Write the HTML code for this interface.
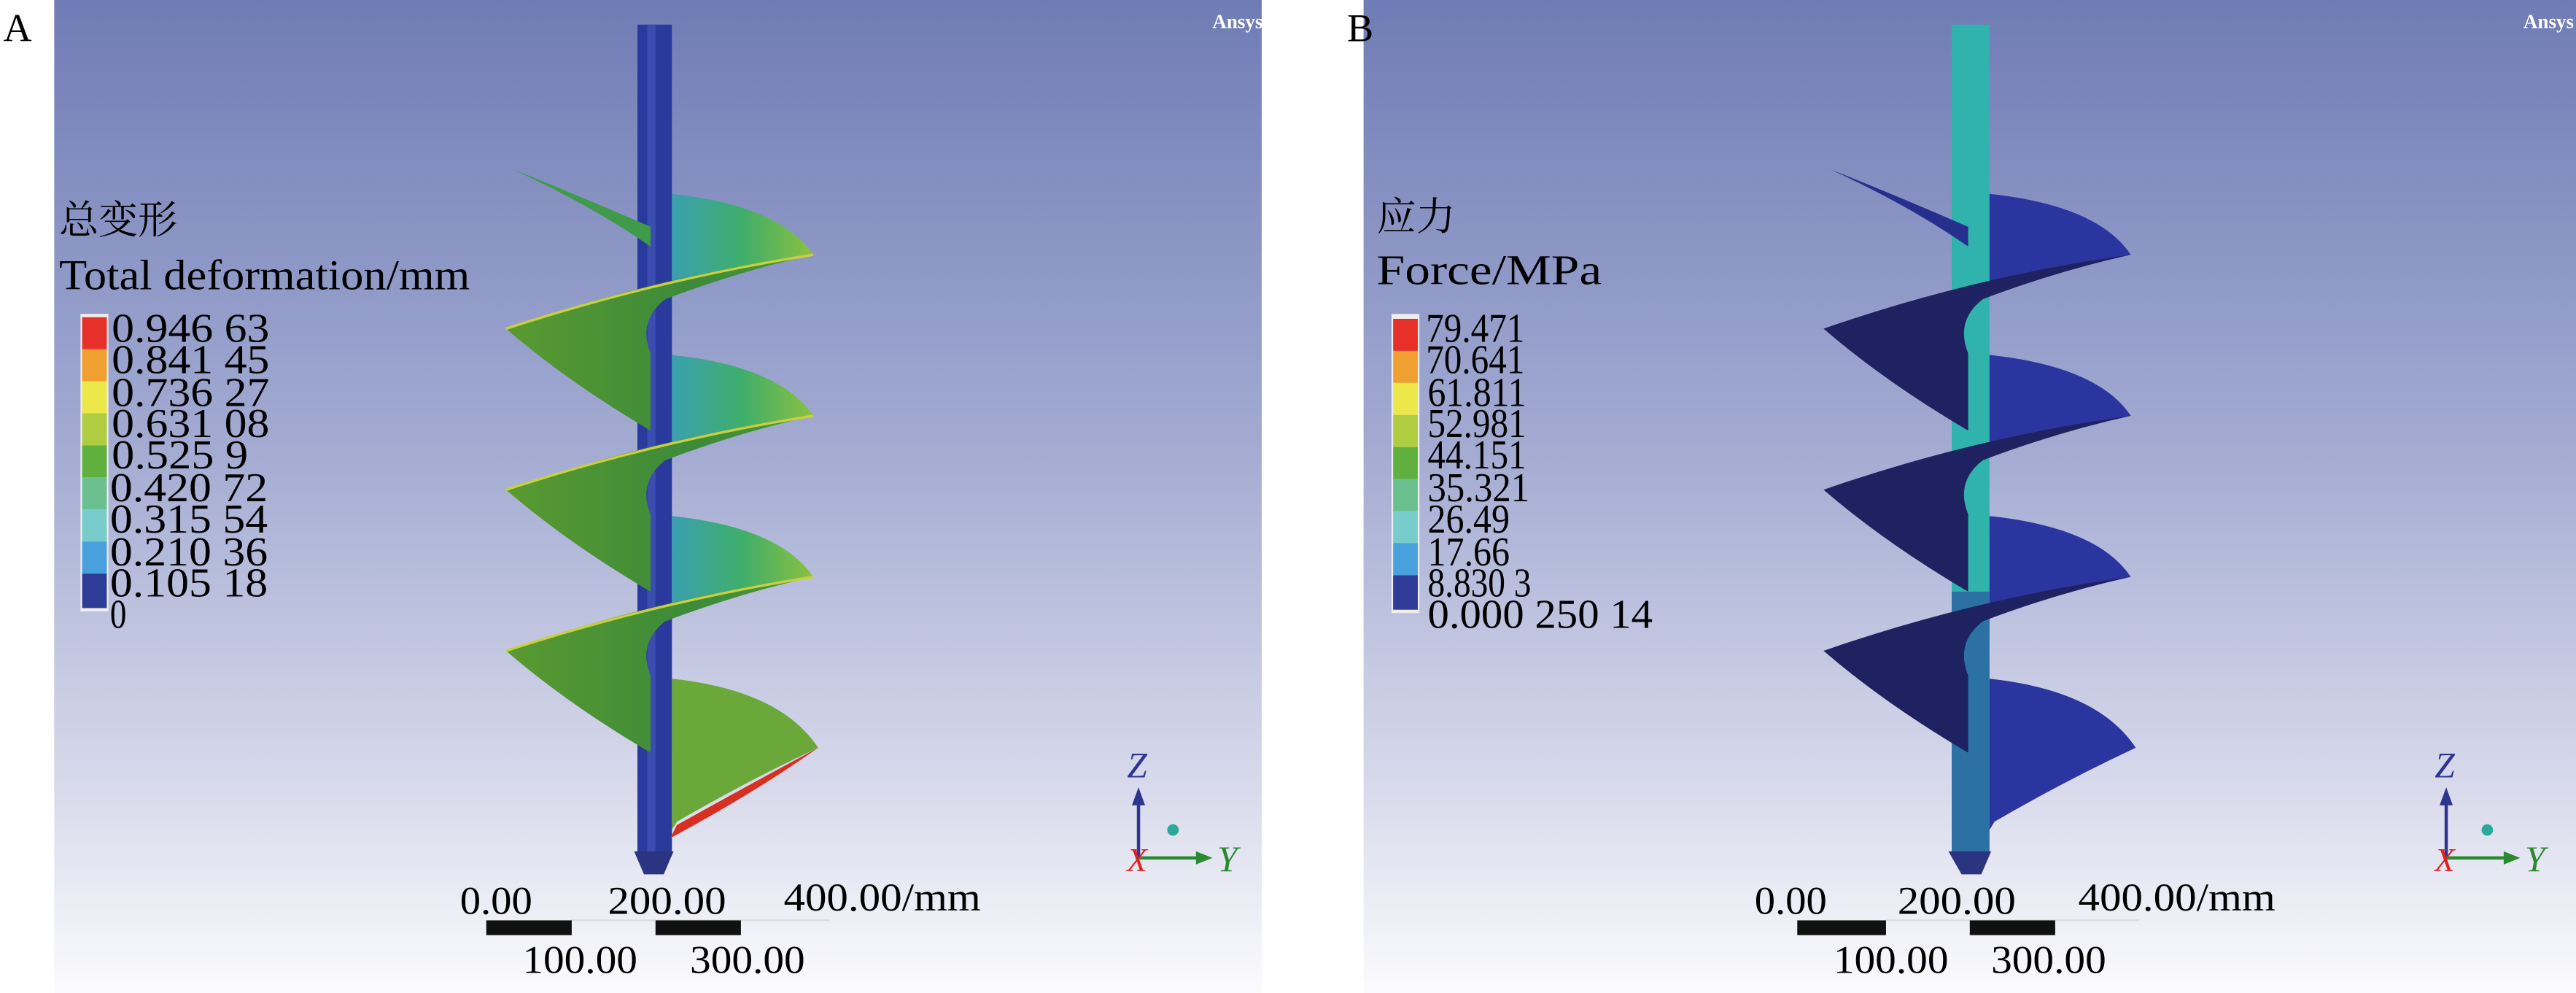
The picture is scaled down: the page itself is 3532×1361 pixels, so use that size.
<!DOCTYPE html>
<html><head><meta charset="utf-8"><style>
html,body{margin:0;padding:0;background:#fff;}
svg{display:block;}
text{font-family:"Liberation Serif","Noto Serif CJK SC",serif;}
</style></head><body>
<svg width="3532" height="1361" viewBox="0 0 1568 604.2" preserveAspectRatio="none" xmlns="http://www.w3.org/2000/svg">
<defs>
<linearGradient id="bg" x1="0" y1="0" x2="0" y2="1">
<stop offset="0" stop-color="#6f7cb5"/>
<stop offset="0.45" stop-color="#a3abd2"/>
<stop offset="0.8" stop-color="#d9dbec"/>
<stop offset="1" stop-color="#fbfbfd"/>
</linearGradient>
<linearGradient id="lobeA" x1="0" y1="0" x2="1" y2="0">
<stop offset="0" stop-color="#3aa0b0"/><stop offset="0.5" stop-color="#3fae6a"/><stop offset="1" stop-color="#8cc040"/>
</linearGradient>
<linearGradient id="bandA" x1="0" y1="0" x2="1" y2="0">
<stop offset="0" stop-color="#5a9a30"/><stop offset="0.6" stop-color="#3c8a3a"/><stop offset="1" stop-color="#4a9a3a"/>
</linearGradient>
</defs>
<!-- Panel A -->
<rect x="33" y="0" width="735" height="604.2" fill="url(#bg)"/>
<text x="2" y="25" font-size="24">A</text>
<text x="738" y="17" font-size="12" fill="#fff" font-family="Liberation Sans, sans-serif" font-weight="bold">Ansys</text>
<!-- Panel B -->
<rect x="830" y="0" width="738" height="604.2" fill="url(#bg)"/>
<text x="820" y="25" font-size="24">B</text>
<text x="1536" y="17" font-size="12" fill="#fff" font-family="Liberation Sans, sans-serif" font-weight="bold">Ansys</text>

<!-- Auger A -->
<g>
<rect x="388" y="15" width="21" height="505" fill="#2a3a9c"/>
<rect x="394" y="15" width="5" height="505" fill="#3b4db0"/>
<path d="M386 518 L410 518 L404 532 L392 532 Z" fill="#2a3480"/>
<path d="M312 103 Q360 125 396 150 L396 138 Q350 118 312 103 Z" fill="#3f9a4a"/>
<g id="turnA">
<path d="M409 118 Q475 125 495 155 Q450 163 409 172 Z" fill="url(#lobeA)"/>
<path d="M495 155 Q400 168 308 200 Q345 232 396 262 L396 215 Q388 195 405 182 Q450 165 495 155 Z" fill="url(#bandA)"/>
<path d="M495 155 Q400 170 308 200" fill="none" stroke="#c8d040" stroke-width="1.5"/>
</g>
<use href="#turnA" transform="translate(0,98)"/>
<use href="#turnA" transform="translate(0,196)"/>
<path d="M409 413 Q475 420 498 455 Q455 475 412 500 L409 505 Z" fill="#6aa83a"/>
<path d="M498 455 Q455 478 412 502 L408 510 Q460 482 498 455 Z" fill="#d83020"/>
</g>

<!-- Auger B -->
<g transform="translate(802,0)">
<rect x="386" y="15" width="23" height="505" fill="#2fb3ac"/>
<rect x="386" y="360" width="23" height="160" fill="#2a3a9c" opacity="0.55"/>
<path d="M384 518 L410 518 L404 532 L392 532 Z" fill="#2a3480"/>
<path d="M312 103 Q360 125 396 150 L396 138 Q350 118 312 103 Z" fill="#262f8c"/>
<g id="turnB">
<path d="M409 118 Q475 125 495 155 Q450 163 409 172 Z" fill="#2a35a0"/>
<path d="M495 155 Q400 168 308 200 Q345 232 396 262 L396 215 Q388 195 405 182 Q450 165 495 155 Z" fill="#1e2260"/>
</g>
<use href="#turnB" transform="translate(0,98)"/>
<use href="#turnB" transform="translate(0,196)"/>
<path d="M409 413 Q475 420 498 455 Q455 475 412 500 L409 505 Z" fill="#2a35a0"/>
</g>

<!-- Legend A -->
<text x="36" y="142" font-size="24">总变形</text>
<text x="36" y="176" font-size="26" textLength="250" lengthAdjust="spacingAndGlyphs">Total deformation/mm</text>
<g>
<rect x="49" y="191" width="17" height="181" fill="#eee"/>
<rect x="50" y="193" width="15" height="19.5" fill="#e8302a"/>
<rect x="50" y="212.5" width="15" height="19.5" fill="#f0a030"/>
<rect x="50" y="232" width="15" height="19.5" fill="#ece84a"/>
<rect x="50" y="251.5" width="15" height="19.5" fill="#b0cc40"/>
<rect x="50" y="271" width="15" height="19.5" fill="#60b040"/>
<rect x="50" y="290.5" width="15" height="19.5" fill="#6cc090"/>
<rect x="50" y="310" width="15" height="19.5" fill="#78cccc"/>
<rect x="50" y="329.5" width="15" height="19.5" fill="#48a0dc"/>
<rect x="50" y="349" width="15" height="21" fill="#2e3c98"/>
</g>
<g font-size="25">
<text x="68" y="208" textLength="96" lengthAdjust="spacingAndGlyphs">0.946 63</text>
<text x="68" y="227" textLength="96" lengthAdjust="spacingAndGlyphs">0.841 45</text>
<text x="68" y="247" textLength="96" lengthAdjust="spacingAndGlyphs">0.736 27</text>
<text x="68" y="266" textLength="96" lengthAdjust="spacingAndGlyphs">0.631 08</text>
<text x="68" y="285" textLength="83" lengthAdjust="spacingAndGlyphs">0.525 9</text>
<text x="67" y="305" textLength="96" lengthAdjust="spacingAndGlyphs">0.420 72</text>
<text x="67" y="324" textLength="96" lengthAdjust="spacingAndGlyphs">0.315 54</text>
<text x="67" y="344" textLength="96" lengthAdjust="spacingAndGlyphs">0.210 36</text>
<text x="67" y="363" textLength="96" lengthAdjust="spacingAndGlyphs">0.105 18</text>
<text x="67" y="382" textLength="10" lengthAdjust="spacingAndGlyphs">0</text>
</g>

<!-- Legend B -->
<text x="838" y="140" font-size="24">应力</text>
<text x="838" y="173" font-size="26" textLength="137" lengthAdjust="spacingAndGlyphs">Force/MPa</text>
<g>
<rect x="847" y="191" width="17" height="182" fill="#eee"/>
<rect x="848" y="194" width="15" height="19.5" fill="#e8302a"/>
<rect x="848" y="213.5" width="15" height="19.5" fill="#f0a030"/>
<rect x="848" y="233" width="15" height="19.5" fill="#ece84a"/>
<rect x="848" y="252.5" width="15" height="19.5" fill="#b0cc40"/>
<rect x="848" y="272" width="15" height="19.5" fill="#60b040"/>
<rect x="848" y="291.5" width="15" height="19.5" fill="#6cc090"/>
<rect x="848" y="311" width="15" height="19.5" fill="#78cccc"/>
<rect x="848" y="330.5" width="15" height="19.5" fill="#48a0dc"/>
<rect x="848" y="350" width="15" height="21" fill="#2e3c98"/>
</g>
<g font-size="25">
<text x="868" y="208" textLength="60" lengthAdjust="spacingAndGlyphs">79.471</text>
<text x="868" y="227" textLength="60" lengthAdjust="spacingAndGlyphs">70.641</text>
<text x="869" y="247" textLength="60" lengthAdjust="spacingAndGlyphs">61.811</text>
<text x="869" y="266" textLength="60" lengthAdjust="spacingAndGlyphs">52.981</text>
<text x="869" y="285" textLength="60" lengthAdjust="spacingAndGlyphs">44.151</text>
<text x="869" y="305" textLength="62" lengthAdjust="spacingAndGlyphs">35.321</text>
<text x="869" y="324" textLength="50" lengthAdjust="spacingAndGlyphs">26.49</text>
<text x="869" y="344" textLength="50" lengthAdjust="spacingAndGlyphs">17.66</text>
<text x="869" y="363" textLength="63" lengthAdjust="spacingAndGlyphs">8.830 3</text>
<text x="869" y="382" textLength="137" lengthAdjust="spacingAndGlyphs">0.000 250 14</text>
</g>

<!-- Scale bar A -->
<g font-size="24">
<text x="280" y="556" textLength="44" lengthAdjust="spacingAndGlyphs">0.00</text>
<text x="370" y="556" textLength="72" lengthAdjust="spacingAndGlyphs">200.00</text>
<text x="477" y="554" textLength="120" lengthAdjust="spacingAndGlyphs">400.00/mm</text>
<line x1="347" y1="560" x2="505" y2="560" stroke="#ddd" stroke-width="1"/>
<rect x="296" y="560" width="52" height="9" fill="#111"/>
<rect x="399" y="560" width="52" height="9" fill="#111"/>
<text x="318" y="592" textLength="70" lengthAdjust="spacingAndGlyphs">100.00</text>
<text x="420" y="592" textLength="70" lengthAdjust="spacingAndGlyphs">300.00</text>
</g>
<!-- Scale bar B -->
<g font-size="24">
<text x="1068" y="556" textLength="44" lengthAdjust="spacingAndGlyphs">0.00</text>
<text x="1155" y="556" textLength="72" lengthAdjust="spacingAndGlyphs">200.00</text>
<text x="1265" y="554" textLength="120" lengthAdjust="spacingAndGlyphs">400.00/mm</text>
<line x1="1148" y1="560" x2="1302" y2="560" stroke="#ddd" stroke-width="1"/>
<rect x="1094" y="560" width="54" height="9" fill="#111"/>
<rect x="1199" y="560" width="52" height="9" fill="#111"/>
<text x="1116" y="592" textLength="70" lengthAdjust="spacingAndGlyphs">100.00</text>
<text x="1212" y="592" textLength="70" lengthAdjust="spacingAndGlyphs">300.00</text>
</g>

<!-- Triad A -->
<g>
<text x="686" y="473" font-size="22" font-style="italic" fill="#2e3590">Z</text>
<line x1="693" y1="522" x2="693" y2="488" stroke="#2e3590" stroke-width="2"/>
<path d="M689 490 L693 479 L697 490 Z" fill="#2e3590"/>
<line x1="693" y1="522" x2="730" y2="522" stroke="#2a8a30" stroke-width="2"/>
<path d="M728 518 L738 522 L728 526 Z" fill="#2a8a30"/>
<text x="741" y="530" font-size="22" font-style="italic" fill="#2a8a30">Y</text>
<text x="686" y="530" font-size="20" font-style="italic" fill="#e02020">X</text>
<circle cx="714" cy="505" r="3.5" fill="#2aa898"/>
</g>
<!-- Triad B -->
<g transform="translate(796,0)">
<text x="686" y="473" font-size="22" font-style="italic" fill="#2e3590">Z</text>
<line x1="693" y1="522" x2="693" y2="488" stroke="#2e3590" stroke-width="2"/>
<path d="M689 490 L693 479 L697 490 Z" fill="#2e3590"/>
<line x1="693" y1="522" x2="730" y2="522" stroke="#2a8a30" stroke-width="2"/>
<path d="M728 518 L738 522 L728 526 Z" fill="#2a8a30"/>
<text x="741" y="530" font-size="22" font-style="italic" fill="#2a8a30">Y</text>
<text x="686" y="530" font-size="20" font-style="italic" fill="#e02020">X</text>
<circle cx="718" cy="505" r="3.5" fill="#2aa898"/>
</g>
</svg>
</body></html>
